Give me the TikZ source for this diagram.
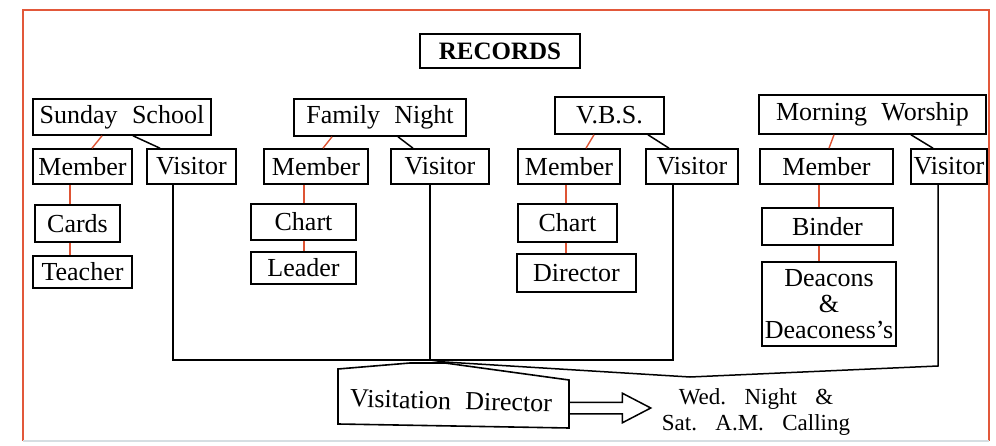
\documentclass[tikz,border=0pt]{standalone}
\usepackage{fontspec}
\setmainfont{Liberation Serif}
\usetikzlibrary{calc,shapes.arrows}
\definecolor{framered}{RGB}{226,88,58}
\definecolor{linkred}{RGB}{222,84,52}
\definecolor{bottomgray}{RGB}{214,222,226}
\newcommand\setwsp[1]{\spaceskip=#1\relax\xspaceskip=#1\relax}
\begin{document}
\begin{tikzpicture}[x=1pt,y=-1pt,
  txt/.style={font=\fontsize{26}{26}\selectfont, align=center, inner sep=0pt, execute at begin node=\setwsp{0.55em}},
  box/.style={txt, draw, line width=1.6pt},
  blk/.style={line width=1.5pt},
  redl/.style={linkred, line width=1.4pt}]
\useasboundingbox (0,0) rectangle (996,446);
% frame
\draw[framered, line width=2pt] (23,441) -- (23,10) -- (989,10) -- (989,441);
\draw[bottomgray, line width=1.5pt] (23,441) -- (989,441);

% title
\node[box, font=\fontsize{25}{25}\selectfont\bfseries, minimum width=160pt, minimum height=34pt] (rec) at (500,51) {RECORDS};

% Sunday School
\node[box, minimum width=178pt, minimum height=36pt] (ss) at (122,117) {Sunday School};
\node[box, minimum width=99pt, minimum height=35pt] (mss) at (82.5,166.5) {Member};
\node[box, minimum width=89pt, minimum height=35pt] (vss) at (191.5,166.5) {Visitor};
\node[box, minimum width=85pt, minimum height=37pt] (cards) at (77.5,223.5) {Cards};
\node[box, minimum width=99pt, minimum height=32pt] (teacher) at (82.5,272) {Teacher};

% Family Night
\node[box, minimum width=172pt, minimum height=37pt] (fn) at (380,117.5) {Family Night};
\node[box, minimum width=104pt, minimum height=35pt] (mfn) at (316,166.5) {Member};
\node[box, minimum width=98pt, minimum height=35pt] (vfn) at (440,166.5) {Visitor};
\node[box, minimum width=105pt, minimum height=36pt] (chfn) at (303.5,222) {Chart};
\node[box, minimum width=105pt, minimum height=32pt] (leader) at (303.5,268) {Leader};

% VBS
\node[box, minimum width=109pt, minimum height=37pt] (vbs) at (609.5,115.5) {V.B.S.};
\node[box, minimum width=102pt, minimum height=35pt] (mvbs) at (569,166.5) {Member};
\node[box, minimum width=92pt, minimum height=35pt] (vvbs) at (692,166.5) {Visitor};
\node[box, minimum width=99pt, minimum height=38pt] (chvbs) at (567.5,223) {Chart};
\node[box, minimum width=119pt, minimum height=38pt] (dir) at (576.5,273) {Director};

% Morning Worship
\node[box, minimum width=227pt, minimum height=39pt] (mw) at (872.5,114.5) {Morning Worship};
\node[box, minimum width=133pt, minimum height=35pt] (mmw) at (826.5,166.5) {Member};
\node[box, minimum width=76pt, minimum height=35pt] (vmw) at (949,166.5) {Visitor};
\node[box, minimum width=131pt, minimum height=37pt] (binder) at (827.5,226.5) {Binder};
\node[box, minimum width=134pt, minimum height=84pt] (deac) at (829,304) {Deacons\\\&\\Deaconess's};

% red and black links from headings
\draw[redl] (ss.south -| 102,0) -- (mss.north -| 92,0);
\draw[blk]  (ss.south -| 133,0) -- (vss.north -| 160,0);
\draw[redl] (fn.south -| 332,0) -- (mfn.north -| 323,0);
\draw[blk]  (fn.south -| 398,0) -- (vfn.north -| 413,0);
\draw[redl] (vbs.south -| 594,0) -- (mvbs.north -| 586,0);
\draw[blk]  (vbs.south -| 648,0) -- (vvbs.north -| 669,0);
\draw[redl] (mw.south -| 834,0) -- (mmw.north -| 829,0);
\draw[blk]  (mw.south -| 911,0) -- (vmw.north -| 933,0);

% member chains
\draw[redl] (mss.south -| 70,0) -- (cards.north -| 70,0);
\draw[redl] (cards.south -| 70,0) -- (teacher.north -| 70,0);
\draw[redl] (mfn.south -| 304,0) -- (chfn.north -| 304,0);
\draw[redl] (chfn.south -| 304,0) -- (leader.north -| 304,0);
\draw[redl] (mvbs.south -| 566,0) -- (chvbs.north -| 566,0);
\draw[redl] (chvbs.south -| 566,0) -- (dir.north -| 566,0);
\draw[redl] (mmw.south -| 819,0) -- (binder.north -| 819,0);
\draw[redl] (binder.south -| 819,0) -- (deac.north -| 819,0);

% visitor lines to visitation director
\coordinate (hub) at (430,360);
\draw[blk] (vss.south -| 173,0) |- (hub) -| (vvbs.south -| 673,0);
\draw[blk] (vfn.south -| 430,0) -- (hub);
\draw[blk] (vmw.south -| 938,0) -- (938,366) -- (690,377) -- (445,362) -- (hub);

% visitation director
\node[txt, rotate=-1.5] (vd) at (451,401) {Visitation Director};
\draw[line width=1.6pt] (338,369) -- (410,363) -- (445,363) -- (569,380) -- (569,428) -- (338,424) -- cycle;

% arrow and calling text
\node[single arrow, draw, line width=1.5pt, minimum height=82pt, minimum width=28pt,
      single arrow head extend=9pt, single arrow tip angle=55, inner sep=5pt, anchor=west] (arr) at (568,408) {};
\node[txt, font=\fontsize{23}{26}\selectfont, execute at begin node=\setwsp{0.8em}] (call) at (756,412) {Wed. Night \&\\Sat. A.M. Calling};
\end{tikzpicture}
\end{document}
